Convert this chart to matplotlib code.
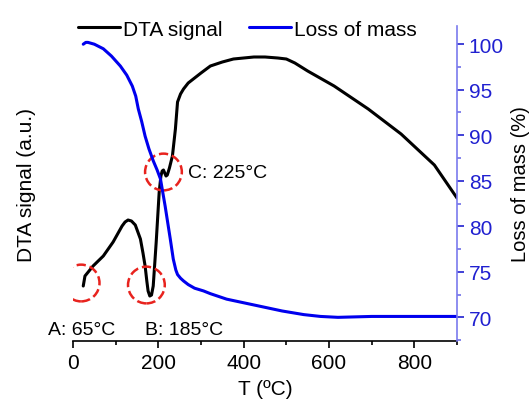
import matplotlib
matplotlib.use("Agg")
from matplotlib import pyplot as plt

plt.rcParams['font.family'] = ['Liberation Sans', 'DejaVu Sans']

# mass loss curve (T in C, mass %)
T_mass = [24, 30, 35, 50, 71, 90, 111, 126, 139, 147, 153, 161, 169, 178, 188, 197, 205,
          216, 228, 235, 241, 245, 252, 259, 270, 285, 306, 322, 360, 400, 440, 490, 541,
          580, 621, 700, 753, 820, 904]
mass = [100.0, 100.2, 100.2, 100.0, 99.5, 98.7, 97.6, 96.6, 95.4, 94.3, 92.9, 91.5, 89.9,
        88.5, 87.2, 86.2, 85.2, 82.2, 78.6, 76.4, 75.2, 74.7, 74.3, 74.0, 73.6, 73.2, 72.9,
        72.6, 72.0, 71.6, 71.2, 70.7, 70.3, 70.1, 70.0, 70.1, 70.1, 70.1, 70.1]

# DTA signal (arbitrary units)
T_dta = [24, 28, 47, 71, 94, 115, 122, 129, 137, 146, 158, 164, 169, 173, 176, 180, 184,
         188, 192, 195, 202, 206, 209, 212, 215, 218, 221, 226, 233, 240, 245, 252, 259,
         270, 282, 300, 322, 350, 376, 400, 424, 450, 480, 500, 520, 550, 612, 692, 769,
         847, 900]
dta = [55, 65, 75, 85, 99, 115, 119, 121, 120, 116, 102, 88, 75, 60, 50, 45, 46,
       55, 80, 99, 149, 165, 170, 171, 168, 165, 166, 173, 185, 212, 239, 247, 252,
       258, 262, 268, 275, 279, 282, 283, 284, 284, 283, 282, 278, 270, 255, 232, 207,
       176, 143]

# marked events
ev_T = [19, 172, 212]
ev_d = [58, 56, 169]

fig = plt.figure(figsize=(5.31, 4.06), dpi=100)
ax = fig.add_axes([0.1375, 0.1576, 0.7231, 0.7759])
ax2 = ax.twinx()

l1, = ax.plot(T_dta, dta, color='black', lw=2.2, label='DTA signal',
              solid_joinstyle='round', solid_capstyle='round')
l2, = ax2.plot(T_mass, mass, color='#0000ee', lw=2.2, label='Loss of mass',
               solid_joinstyle='round', solid_capstyle='round')

ax.scatter(ev_T, ev_d, s=700, facecolors='none', edgecolors='#e8231e',
           linestyles='--', linewidths=1.8, zorder=5)

ax.text(-59, 12, 'A: 65\u00b0C', fontsize=14, ha='left', va='center')
ax.text(169, 12, 'B: 185\u00b0C', fontsize=14, ha='left', va='center')
ax.text(270, 169, 'C: 225\u00b0C', fontsize=14, ha='left', va='center')

ax.set_xlim(0, 900)
ax.set_ylim(0, 315)
ax2.set_ylim(67.4, 102)

ax.set_xticks([0, 200, 400, 600, 800])
ax.set_xticks([100, 300, 500, 700, 900], minor=True)
ax.set_yticks([])
ax.tick_params(axis='x', labelsize=15, direction='out', length=5, width=1.2)
ax.tick_params(axis='x', which='minor', length=3, width=1.2)

ax2.set_yticks([70, 75, 80, 85, 90, 95, 100])
ax2.set_yticks([67.5, 72.5, 77.5, 82.5, 87.5, 92.5, 97.5], minor=True)
ax2.tick_params(axis='y', labelsize=15, colors='#2020d0', direction='out', length=5, width=1.2)
ax2.tick_params(axis='y', which='minor', colors='#7070e8', length=3, width=1.2)

for a in (ax, ax2):
    a.spines['top'].set_visible(False)
    a.spines['left'].set_visible(False)
    a.spines['right'].set_visible(False)
ax2.spines['bottom'].set_visible(False)
ax2.spines['right'].set_visible(True)
ax2.spines['right'].set_color('#7a7aee')
ax2.spines['right'].set_linewidth(1.2)
ax.spines['bottom'].set_linewidth(1.2)

ax.set_xlabel('T (\u00baC)', fontsize=15, labelpad=5)
ax.set_ylabel('DTA signal (a.u.)', fontsize=15, labelpad=27)
ax2.set_ylabel('Loss of mass (%)', fontsize=14.5, labelpad=5)

fig.legend(handles=[l1, l2], loc='upper center', bbox_to_anchor=(0.466, 0.995), ncol=2,
           frameon=False, fontsize=15, handlelength=2.0, handletextpad=0.15,
           columnspacing=1.3)

fig.savefig('out.png', dpi=100)
